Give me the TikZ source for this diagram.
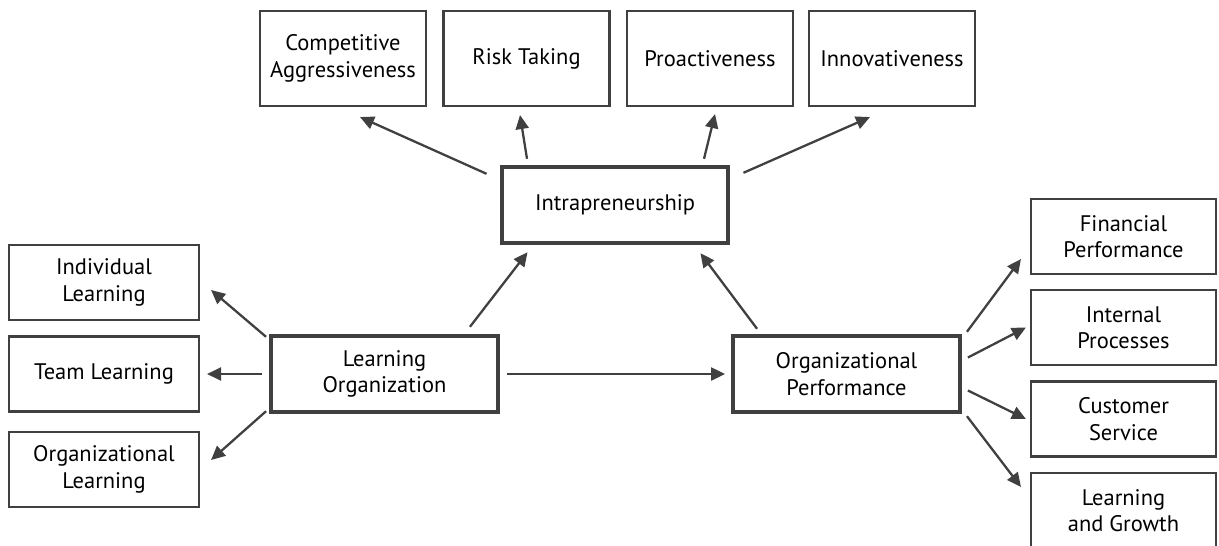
\documentclass[tikz,border=0pt]{standalone}
\usepackage{fontspec}
\setmainfont{PT Sans}
\usetikzlibrary{arrows.meta}
\definecolor{linegray}{RGB}{64,64,64}

\begin{document}
\begin{tikzpicture}
\tikzstyle{box}=[draw=linegray, line width=1.2pt, align=center, inner sep=0pt, font=\fontsize{12.8}{15}\selectfont, minimum width=3.32cm, minimum height=1.9cm]
\tikzstyle{bigbox}=[box, line width=2.5pt, minimum width=4.53cm, minimum height=1.52cm]
\tikzstyle{sidebox}=[box, minimum width=3.8cm, minimum height=1.5cm]
\tikzstyle{arrow}=[-{Triangle[length=0.28cm,width=0.26cm]}, draw=linegray, line width=1.3pt]

\useasboundingbox (0,0) rectangle (24.38,-10.9);
\clip (0,0) rectangle (24.38,-10.9);

\node[box] (comp) at (6.86,-1.17) {Competitive\\Aggressiveness};
\node[box] (risk) at (10.53,-1.17) {Risk Taking};
\node[box] (proact) at (14.20,-1.17) {Proactiveness};
\node[box] (innov) at (17.84,-1.17) {Innovativeness};
\node[bigbox] (intra) at (12.30,-4.10) {Intrapreneurship};
\node[bigbox] (lorg) at (7.69,-7.48) {Learning\\Organization};
\node[bigbox] (operf) at (16.93,-7.48) {Organizational\\Performance};
\node[sidebox] (indl) at (2.08,-5.65) {Individual\\Learning};
\node[sidebox] (teaml) at (2.08,-7.48) {Team Learning};
\node[sidebox] (orgl) at (2.08,-9.39) {Organizational\\Learning};
\node[sidebox, minimum width=3.7cm] (fin) at (22.47,-4.73) {Financial\\Performance};
\node[sidebox, minimum width=3.7cm] (intp) at (22.47,-6.55) {Internal\\Processes};
\node[sidebox, minimum width=3.7cm] (cust) at (22.47,-8.38) {Customer\\Service};
\node[sidebox, minimum width=3.7cm] (grow) at (22.47,-10.21) {Learning\\and Growth};

\draw[arrow] ([shift={(-0.26,-0.18)}]intra.north west) -- ([shift={(0.34,-0.20)}]comp.south);
\draw[arrow] ([shift={(-1.76,0.12)}]intra.north) -- ([shift={(-0.13,-0.16)}]risk.south);
\draw[arrow] ([shift={(1.78,0.12)}]intra.north) -- ([shift={(0.10,-0.14)}]proact.south);
\draw[arrow] ([shift={(0.26,-0.16)}]intra.north east) -- ([shift={(-0.44,-0.20)}]innov.south);
\draw[arrow] ([shift={(-0.60,0.14)}]lorg.north east) -- ([shift={(0.56,-0.14)}]intra.south west);
\draw[arrow] ([shift={(0.52,0.10)}]operf.north west) -- ([shift={(-0.60,-0.16)}]intra.south east);
\draw[arrow] ([xshift=0.14cm]lorg.east) -- ([xshift=-0.12cm]operf.west);
\draw[arrow] ([shift={(-0.06,-0.06)}]lorg.north west) -- ([shift={(0.22,-0.15)}]indl.east);
\draw[arrow] ([xshift=-0.14cm]lorg.west) -- ([xshift=0.14cm]teaml.east);
\draw[arrow] ([shift={(-0.06,0.06)}]lorg.south west) -- ([shift={(0.22,0.19)}]orgl.east);
\draw[arrow] ([shift={(0.10,0.04)}]operf.north east) -- ([shift={(-0.18,0.32)}]fin.south west);
\draw[arrow] ([shift={(0.12,0.33)}]operf.east) -- ([xshift=-0.08cm]intp.west);
\draw[arrow] ([shift={(0.12,-0.33)}]operf.east) -- ([xshift=-0.08cm]cust.west);
\draw[arrow] ([shift={(0.10,-0.04)}]operf.south east) -- ([shift={(-0.18,-0.30)}]grow.north west);
\end{tikzpicture}
\end{document}
